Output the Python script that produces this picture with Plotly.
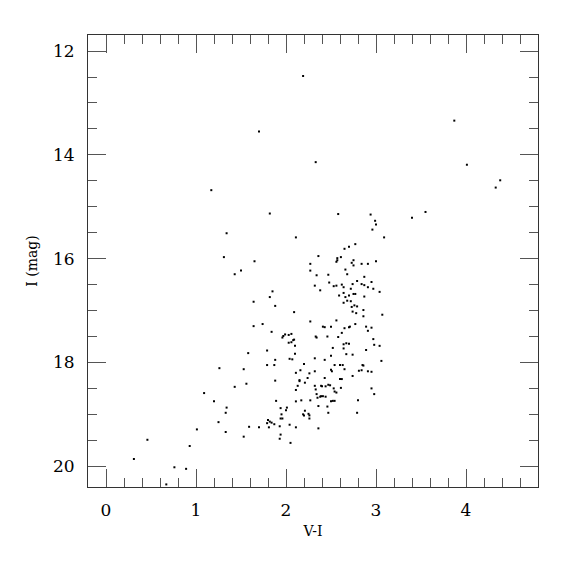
import plotly.graph_objects as go

# V-I colour and I magnitude
v_i = [
    2.19, 1.70, 3.87, 2.33, 4.01, 4.38, 4.33, 1.17, 1.82, 2.58,
    2.94, 3.40, 3.55, 2.99, 3.00, 2.96, 1.34, 2.11, 3.09, 1.31,
    2.77, 2.70, 2.65, 2.36, 2.61, 2.57, 2.57, 2.56, 3.00, 1.65,
    2.27, 2.73, 2.75, 2.75, 2.84, 2.91, 1.50, 1.43, 2.27, 2.66,
    2.34, 2.47, 2.68, 2.87, 2.79, 2.48, 2.95, 2.32, 2.53, 2.56,
    2.62, 2.64, 2.74, 2.84, 2.87, 2.91, 2.97, 2.72, 1.85, 2.38,
    3.04, 1.82, 2.59, 2.64, 2.66, 2.70, 2.75, 2.77, 2.87, 1.64,
    1.88, 2.64, 2.68, 2.72, 2.76, 2.79, 2.73, 2.86, 2.09, 2.74,
    2.78, 2.86, 3.07, 2.56, 2.27, 1.64, 1.74, 2.77, 2.41, 2.43,
    2.50, 2.65, 2.70, 2.71, 2.89, 2.95, 2.91, 1.84, 1.99, 2.03,
    2.06, 1.96, 1.97, 2.33, 2.34, 2.46, 2.58, 2.62, 2.09, 2.03,
    2.06, 2.08, 2.10, 2.64, 2.67, 2.70, 2.64, 2.52, 2.97, 2.98,
    3.04, 2.89, 1.79, 1.58, 2.10, 2.67, 2.74, 2.50, 2.32, 2.04,
    2.07, 1.88, 2.43, 3.06, 2.20, 1.79, 1.87, 2.54, 2.60, 2.63,
    2.85, 2.86, 1.26, 1.53, 2.50, 2.51, 2.65, 2.81, 2.84, 2.91,
    2.95, 2.16, 2.11, 2.26, 2.32, 2.74, 2.24, 2.15, 2.15, 1.88,
    2.43, 2.60, 2.62, 1.56, 2.21, 1.43, 2.13, 2.32, 2.39, 2.40,
    2.44, 2.47, 2.49, 2.53, 2.61, 2.95, 1.09, 2.11, 2.33, 2.54,
    2.56, 2.98, 2.34, 2.35, 2.38, 2.39, 2.41, 2.44, 2.50, 2.52,
    2.54, 1.20, 1.89, 2.11, 2.17, 2.27, 2.80, 2.36, 2.46, 1.34,
    1.33, 1.94, 2.01, 2.00, 2.21, 2.19, 2.20, 2.25, 2.26, 2.26,
    1.95, 1.94, 1.96, 2.47, 2.79, 1.25, 1.80, 1.82, 1.79, 1.84,
    1.87, 2.04, 1.59, 1.70, 1.81, 1.93, 2.11, 2.36, 1.33, 1.01,
    1.53, 1.94, 1.93, 2.05, 0.46, 0.93, 0.31, 0.76, 0.89, 0.67,
]
i_mag = [
    12.48, 13.55, 13.34, 14.14, 14.19, 14.49, 14.63, 14.68, 15.13, 15.14,
    15.15, 15.21, 15.10, 15.27, 15.34, 15.44, 15.51, 15.59, 15.59, 15.97,
    15.72, 15.77, 15.81, 15.95, 15.97, 15.99, 16.03, 16.06, 16.05, 16.05,
    16.10, 16.08, 16.03, 16.13, 16.10, 16.10, 16.23, 16.30, 16.23, 16.21,
    16.32, 16.31, 16.30, 16.35, 16.43, 16.46, 16.45, 16.52, 16.53, 16.52,
    16.50, 16.55, 16.49, 16.49, 16.51, 16.55, 16.58, 16.58, 16.63, 16.61,
    16.64, 16.74, 16.71, 16.66, 16.74, 16.71, 16.68, 16.68, 16.73, 16.83,
    16.91, 16.85, 16.81, 16.82, 16.90, 16.92, 16.93, 16.99, 17.03, 17.02,
    17.05, 17.11, 17.08, 17.19, 17.21, 17.30, 17.26, 17.26, 17.31, 17.32,
    17.31, 17.34, 17.32, 17.31, 17.31, 17.33, 17.39, 17.41, 17.46, 17.47,
    17.45, 17.52, 17.49, 17.50, 17.52, 17.50, 17.51, 17.43, 17.56, 17.62,
    17.61, 17.57, 17.68, 17.65, 17.63, 17.64, 17.73, 17.72, 17.55, 17.66,
    17.68, 17.76, 17.77, 17.82, 17.83, 17.84, 17.85, 17.87, 17.92, 17.93,
    17.94, 17.95, 17.95, 17.97, 18.03, 18.05, 18.05, 18.05, 18.05, 18.05,
    18.05, 18.06, 18.11, 18.13, 18.14, 18.17, 18.13, 18.16, 18.15, 18.17,
    18.18, 18.15, 18.20, 18.21, 18.17, 18.26, 18.30, 18.34, 18.36, 18.35,
    18.30, 18.32, 18.32, 18.41, 18.39, 18.47, 18.45, 18.45, 18.45, 18.46,
    18.46, 18.43, 18.44, 18.50, 18.49, 18.50, 18.59, 18.53, 18.52, 18.56,
    18.58, 18.61, 18.61, 18.68, 18.66, 18.65, 18.65, 18.66, 18.75, 18.74,
    18.74, 18.75, 18.74, 18.75, 18.73, 18.73, 18.73, 18.84, 18.85, 18.87,
    18.97, 18.88, 18.87, 18.92, 18.93, 19.00, 19.02, 18.99, 19.02, 19.08,
    19.00, 19.08, 19.08, 18.97, 18.97, 19.15, 19.11, 19.14, 19.17, 19.16,
    19.19, 19.20, 19.24, 19.25, 19.25, 19.23, 19.25, 19.27, 19.34, 19.29,
    19.43, 19.39, 19.47, 19.55, 19.49, 19.61, 19.86, 20.02, 20.05, 20.35,
]

x_ticks = [0, 1, 2, 3, 4]
y_ticks = [12, 14, 16, 18, 20]

font_family = "DejaVu Serif"

fig = go.Figure(
    go.Scatter(
        x=v_i,
        y=i_mag,
        mode="markers",
        marker=dict(size=2, color="black", symbol="square", line=dict(width=0)),
        hoverinfo="skip",
    )
)

axis_common = dict(
    showgrid=False,
    zeroline=False,
    showline=True,
    linecolor="#333333",
    linewidth=1,
    mirror="allticks",
    ticks="inside",
    tickcolor="#555555",
    tickwidth=1,
    ticklen=18,
    tickfont=dict(family=font_family, size=17, color="black"),
)

fig.update_xaxes(
    **axis_common,
    range=[-0.2, 4.8],
    tickvals=x_ticks,
    ticktext=[str(v) for v in x_ticks],
    minor=dict(dtick=0.2, ticks="inside", ticklen=9, tickcolor="#555555", tickwidth=1, showgrid=False),
    ticklabelstandoff=8,
    title=dict(text="V-I", font=dict(family=font_family, size=14, color="black"), standoff=6),
)
fig.update_yaxes(
    **axis_common,
    range=[20.4, 11.69],
    tickvals=y_ticks,
    ticktext=[str(v) for v in y_ticks],
    minor=dict(dtick=0.5, tick0=12, ticks="inside", ticklen=9, tickcolor="#555555", tickwidth=1, showgrid=False),
    ticklabelstandoff=9,
    title=dict(text="I (mag)", font=dict(family=font_family, size=14, color="black"), standoff=12),
)

fig.update_layout(
    width=575,
    height=575,
    margin=dict(l=80, r=45, t=27, b=96),
    paper_bgcolor="white",
    plot_bgcolor="white",
    showlegend=False,
)

fig.write_html("out.html")
